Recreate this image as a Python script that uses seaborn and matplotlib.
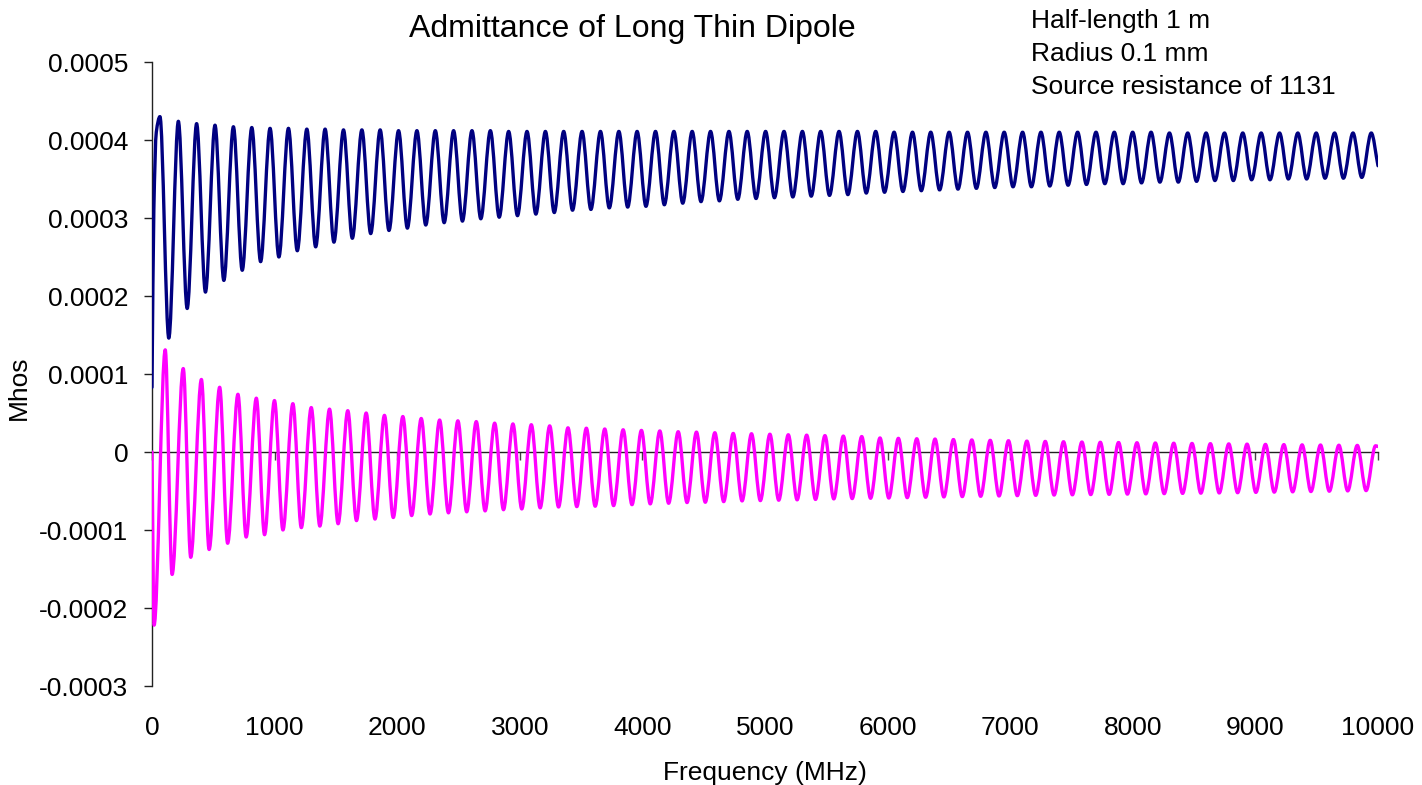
import numpy as np
import pandas as pd
import matplotlib
matplotlib.use("Agg")
import matplotlib.pyplot as plt
import seaborn as sns
from matplotlib.path import Path
from matplotlib.patches import PathPatch

# values, admittance in units of 1e-4 mhos
# conductance (navy): start of sweep, then peaks and troughs
g_start_freq = [0, 15, 35]
g_start_val = [0.83, 3.10, 4.10]

g_peak_freq = [65, 215, 364, 514, 664, 814, 963, 1113, 1263, 1412,
               1562, 1712, 1861, 2011, 2161, 2311, 2460, 2610, 2760, 2909,
               3059, 3209, 3358, 3508, 3658, 3808, 3957, 4107, 4257, 4406,
               4556, 4706, 4855, 5005, 5155, 5305, 5454, 5604, 5754, 5903,
               6053, 6203, 6352, 6502, 6652, 6802, 6951, 7101, 7251, 7400,
               7550, 7700, 7849, 7999, 8149, 8299, 8448, 8598, 8748, 8897,
               9047, 9197, 9346, 9496, 9646, 9796, 9945]
g_peak_val = [4.30, 4.24, 4.21, 4.19, 4.17, 4.16, 4.15, 4.15, 4.14, 4.14,
              4.13, 4.13, 4.13, 4.12, 4.12, 4.12, 4.12, 4.12, 4.12, 4.11,
              4.11, 4.11, 4.11, 4.11, 4.11, 4.11, 4.11, 4.11, 4.11, 4.11,
              4.11, 4.11, 4.11, 4.11, 4.11, 4.11, 4.11, 4.11, 4.11, 4.11,
              4.10, 4.10, 4.10, 4.10, 4.10, 4.10, 4.10, 4.10, 4.10, 4.10,
              4.10, 4.10, 4.10, 4.10, 4.10, 4.09, 4.09, 4.09, 4.09, 4.09,
              4.09, 4.09, 4.09, 4.09, 4.09, 4.09, 4.09]

g_trough_freq = [137, 287, 436, 586, 736, 886, 1035, 1185, 1335, 1484,
                 1634, 1784, 1933, 2083, 2233, 2383, 2532, 2682, 2832, 2981,
                 3131, 3281, 3430, 3580, 3730, 3880, 4029, 4179, 4329, 4478,
                 4628, 4778, 4927, 5077, 5227, 5377, 5526, 5676, 5826, 5975,
                 6125, 6275, 6424, 6574, 6724, 6874, 7023, 7173, 7323, 7472,
                 7622, 7772, 7921, 8071, 8221, 8371, 8520, 8670, 8820, 8969,
                 9119, 9269, 9418, 9568, 9718, 9868]
g_trough_val = [1.46, 1.84, 2.05, 2.20, 2.33, 2.44, 2.50, 2.58, 2.63, 2.69,
                2.74, 2.80, 2.84, 2.87, 2.91, 2.94, 2.96, 2.99, 3.01, 3.03,
                3.05, 3.07, 3.10, 3.11, 3.13, 3.14, 3.15, 3.17, 3.19, 3.21,
                3.22, 3.24, 3.25, 3.26, 3.27, 3.28, 3.29, 3.30, 3.32, 3.33,
                3.34, 3.35, 3.36, 3.37, 3.38, 3.39, 3.40, 3.40, 3.41, 3.42,
                3.43, 3.44, 3.44, 3.45, 3.46, 3.46, 3.47, 3.48, 3.48, 3.49,
                3.49, 3.50, 3.50, 3.51, 3.51, 3.52]
g_end_freq = [10000]
g_end_val = [3.67]

# susceptance (magenta)
b_start_freq = [0, 17]
b_start_val = [0.0, -2.22]

b_peak_freq = [108, 255, 403, 552, 701, 851, 999, 1149, 1299, 1448,
               1597, 1747, 1896, 2046, 2196, 2346, 2495, 2645, 2795, 2944,
               3094, 3244, 3393, 3543, 3693, 3843, 3992, 4142, 4292, 4441,
               4591, 4741, 4890, 5040, 5190, 5340, 5489, 5639, 5789, 5938,
               6088, 6238, 6387, 6537, 6687, 6837, 6986, 7136, 7286, 7435,
               7585, 7735, 7884, 8034, 8184, 8334, 8483, 8633, 8783, 8932,
               9082, 9232, 9381, 9531, 9681, 9831, 9980]
b_peak_val = [1.31, 1.07, 0.93, 0.83, 0.74, 0.69, 0.66, 0.62, 0.57, 0.55,
              0.53, 0.50, 0.47, 0.455, 0.43, 0.41, 0.40, 0.39, 0.37, 0.36,
              0.35, 0.335, 0.31, 0.305, 0.295, 0.285, 0.277, 0.27, 0.26, 0.255,
              0.247, 0.238, 0.234, 0.228, 0.221, 0.216, 0.21, 0.204, 0.198, 0.18,
              0.175, 0.17, 0.166, 0.16, 0.155, 0.15, 0.145, 0.14, 0.136, 0.132,
              0.128, 0.125, 0.122, 0.119, 0.116, 0.113, 0.11, 0.107, 0.104, 0.101,
              0.098, 0.095, 0.092, 0.09, 0.087, 0.085, 0.08]

b_trough_freq = [164, 316, 466, 617, 768, 918, 1068, 1218, 1369, 1518,
                 1668, 1819, 1968, 2118, 2268, 2418, 2567, 2717, 2867, 3016,
                 3166, 3316, 3465, 3615, 3765, 3915, 4064, 4214, 4364, 4513,
                 4663, 4813, 4962, 5112, 5262, 5412, 5561, 5711, 5861, 6010,
                 6160, 6310, 6459, 6609, 6759, 6909, 7058, 7208, 7358, 7507,
                 7657, 7807, 7956, 8106, 8256, 8406, 8555, 8705, 8855, 9004,
                 9154, 9304, 9453, 9603, 9753, 9903]
b_trough_val = [-1.57, -1.35, -1.25, -1.17, -1.09, -1.06, -1.00, -0.97, -0.95, -0.92,
                -0.88, -0.86, -0.84, -0.815, -0.795, -0.78, -0.767, -0.755, -0.74, -0.73,
                -0.716, -0.705, -0.70, -0.695, -0.687, -0.675, -0.665, -0.657, -0.648, -0.644,
                -0.636, -0.627, -0.623, -0.618, -0.613, -0.608, -0.601, -0.597, -0.593, -0.59,
                -0.585, -0.58, -0.576, -0.572, -0.568, -0.564, -0.56, -0.556, -0.552, -0.549,
                -0.546, -0.543, -0.54, -0.537, -0.534, -0.531, -0.528, -0.525, -0.522, -0.518,
                -0.515, -0.511, -0.507, -0.503, -0.499, -0.495]
b_end_freq = [10000]
b_end_val = [0.07]

x_ticks = [0, 1000, 2000, 3000, 4000, 5000, 6000, 7000, 8000, 9000, 10000]
x_tick_labels = [str(t) for t in x_ticks]
y_ticks = [-0.0003, -0.0002, -0.0001, 0, 0.0001, 0.0002, 0.0003, 0.0004, 0.0005]
y_tick_labels = ["-0.0003", "-0.0002", "-0.0001", "0", "0.0001", "0.0002",
                 "0.0003", "0.0004", "0.0005"]

notes = ["Half-length 1 m", "Radius 0.1 mm", "Source resistance of 1131"]


def series_frame(parts):
    freqs, vals = [], []
    for f, v in parts:
        freqs += f
        vals += v
    df = pd.DataFrame({"freq": freqs, "mhos": [v * 1e-4 for v in vals]})
    return df.sort_values("freq").reset_index(drop=True)


def smooth_line(ax, line):
    # redraw a seaborn line as a smoothed curve (like a spreadsheet's
    # "smoothed line"), using monotone tangents so peaks don't overshoot
    xy = line.get_xydata()
    x, y = xy[:, 0], xy[:, 1]
    d = np.diff(y) / np.diff(x)
    m = np.zeros(len(x))
    m[0], m[-1] = d[0], d[-1]
    for i in range(1, len(x) - 1):
        if d[i - 1] * d[i] > 0:
            m[i] = 2 / (1 / d[i - 1] + 1 / d[i])
    verts = [(x[0], y[0])]
    codes = [Path.MOVETO]
    for i in range(len(x) - 1):
        h = x[i + 1] - x[i]
        verts += [(x[i] + h / 3, y[i] + m[i] * h / 3),
                  (x[i + 1] - h / 3, y[i + 1] - m[i + 1] * h / 3),
                  (x[i + 1], y[i + 1])]
        codes += [Path.CURVE4] * 3
    patch = PathPatch(Path(verts, codes), fill=False, edgecolor=line.get_color(),
                      linewidth=line.get_linewidth(), zorder=3,
                      capstyle="round", joinstyle="round")
    ax.add_patch(patch)
    line.remove()


g_df = series_frame([(g_start_freq, g_start_val), (g_peak_freq, g_peak_val),
                     (g_trough_freq, g_trough_val), (g_end_freq, g_end_val)])
b_df = series_frame([(b_start_freq, b_start_val), (b_peak_freq, b_peak_val),
                     (b_trough_freq, b_trough_val), (b_end_freq, b_end_val)])

sns.set_theme(style="ticks")
plt.rcParams["font.family"] = ["Liberation Sans", "DejaVu Sans"]
fs = 19

fig = plt.figure(figsize=(14.22, 7.85), dpi=100)
ax = fig.add_axes([0.10689, 0.12611, 0.86217, 0.79490])

sns.lineplot(data=g_df, x="freq", y="mhos", color="#000080", linewidth=2.4,
             estimator=None, ax=ax)
smooth_line(ax, ax.lines[-1])
sns.lineplot(data=b_df, x="freq", y="mhos", color="#FF00FF", linewidth=2.4,
             estimator=None, ax=ax)
smooth_line(ax, ax.lines[-1])

ax.set_xlim(0, 10000)
ax.set_ylim(-0.0003, 0.0005)
ax.set_yticks(y_ticks, y_tick_labels)
ax.set_xticks(x_ticks)

for side in ["top", "right"]:
    ax.spines[side].set_visible(False)
ax.spines["left"].set_color("#222222")
ax.spines["left"].set_linewidth(1.0)
ax.spines["bottom"].set_position(("data", 0))
ax.spines["bottom"].set_color("#222222")
ax.spines["bottom"].set_linewidth(1.0)

ax.tick_params(axis="y", direction="out", length=6, width=1, color="#222222",
               labelsize=fs, labelcolor="black", pad=11)
ax.tick_params(axis="x", direction="out", length=5.5, width=1, color="#444444",
               labelbottom=False)

sec = ax.secondary_xaxis("bottom")
sec.set_xticks(x_ticks, x_tick_labels)
sec.tick_params(length=0, labelsize=fs, labelcolor="black", pad=21.5)
sec.spines["bottom"].set_visible(False)
sec.set_xlabel("Frequency (MHz)", fontsize=fs, color="black", labelpad=15)

ax.set_xlabel("")
ax.set_ylabel("Mhos", fontsize=fs, color="black")
ax.yaxis.set_label_coords(-0.0987, 0.4776)

fig.text(0.2876, 0.9532, "Admittance of Long Thin Dipole", fontsize=23,
         ha="left", va="baseline", color="black")
for txt, yb in zip(notes, [0.9644, 0.9223, 0.8803]):
    fig.text(0.7247, yb, txt, fontsize=fs, ha="left", va="baseline", color="black")

fig.savefig("out.png", dpi=100, facecolor="white")
